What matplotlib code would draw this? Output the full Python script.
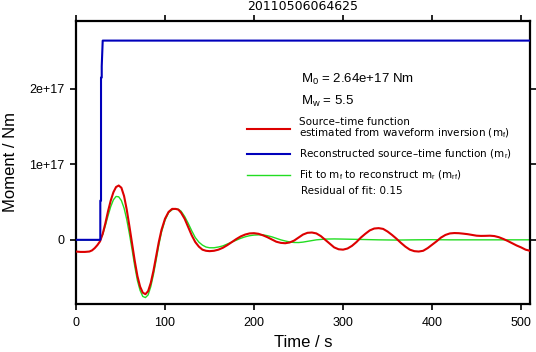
"""Source-time function plot for event 20110506064625."""

import matplotlib
matplotlib.use("Agg")
import matplotlib.pyplot as plt
from matplotlib.lines import Line2D
import numpy as np

plt.rcParams["font.family"] = ["Liberation Sans", "DejaVu Sans"]
plt.rcParams["mathtext.fontset"] = "custom"
plt.rcParams["mathtext.rm"] = "Liberation Sans"
plt.rcParams["mathtext.it"] = "Liberation Sans"

event_id = "20110506064625"
moment_text = "M$_0$ = 2.64e+17 Nm"
mw_text = "M$_w$ = 5.5"
residual_text = "Residual of fit: 0.15"

# estimated source-time function m_f (units of 1e17 Nm)
t_red = [0, 5, 10, 15, 18, 21, 24, 27, 30, 33, 36, 39, 42, 45, 48, 51, 54, 57, 60,
         63, 66, 69, 72, 75, 78, 81, 84, 87, 90, 93, 96, 100, 104, 108, 112, 115,
         118, 122, 126, 130, 134, 138, 142, 146, 150, 155, 160, 165, 170, 175, 180,
         185, 190, 195, 200, 205, 210, 215, 220, 225, 230, 235, 240, 245, 250, 255,
         260, 265, 270, 275, 280, 285, 290, 295, 300, 305, 310, 315, 320, 325, 330,
         335, 340, 345, 350, 355, 360, 365, 370, 375, 380, 385, 390, 395, 400, 405,
         410, 415, 420, 425, 430, 435, 440, 445, 450, 455, 460, 465, 470, 475, 480,
         485, 490, 495, 500, 505, 510]
m_red = [-0.155, -0.16, -0.16, -0.155, -0.14, -0.11, -0.07, -0.02, 0.08, 0.22, 0.38,
         0.52, 0.63, 0.70, 0.72, 0.69, 0.58, 0.40, 0.18, -0.05, -0.28, -0.48, -0.62,
         -0.70, -0.72, -0.68, -0.57, -0.41, -0.22, -0.03, 0.13, 0.28, 0.37, 0.41, 0.41,
         0.40, 0.36, 0.28, 0.17, 0.06, -0.03, -0.09, -0.13, -0.145, -0.15, -0.145,
         -0.13, -0.105, -0.07, -0.03, 0.01, 0.045, 0.07, 0.085, 0.088, 0.08, 0.06,
         0.035, 0.005, -0.025, -0.04, -0.045, -0.035, -0.01, 0.03, 0.07, 0.093, 0.097,
         0.085, 0.05, 0.0, -0.05, -0.10, -0.125, -0.13, -0.115, -0.08, -0.03, 0.03,
         0.08, 0.125, 0.15, 0.155, 0.145, 0.11, 0.065, 0.015, -0.04, -0.09, -0.13,
         -0.15, -0.155, -0.145, -0.11, -0.065, -0.02, 0.03, 0.065, 0.085, 0.09, 0.088,
         0.082, 0.075, 0.065, 0.055, 0.052, 0.053, 0.055, 0.05, 0.035, 0.012, -0.015,
         -0.045, -0.075, -0.10, -0.13, -0.145]

# reconstructed source-time function m_r
t_blue = [0, 27.3, 27.3, 28.1, 28.1, 28.9, 28.9, 30.0, 510]
m_blue = [0, 0, 0.52, 0.52, 2.15, 2.15, 2.30, 2.64, 2.64]

# fit m_rf
t_green = [0, 27, 30, 33, 36, 39, 42, 45, 48, 51, 54, 57, 60, 63, 66, 69, 72, 75,
           78, 81, 84, 87, 90, 93, 96, 100, 104, 108, 112, 115, 118, 122, 126, 130,
           134, 138, 142, 146, 150, 155, 160, 165, 170, 175, 180, 185, 190, 195, 200,
           205, 210, 215, 220, 225, 230, 235, 240, 245, 250, 255, 260, 265, 270, 280,
           290, 300, 320, 340, 360, 380, 400, 420, 450, 480, 510]
m_green = [0, 0, 0.07, 0.19, 0.32, 0.44, 0.53, 0.575, 0.57, 0.52, 0.42, 0.27, 0.08,
           -0.13, -0.35, -0.54, -0.67, -0.75, -0.765, -0.73, -0.62, -0.46, -0.27,
           -0.07, 0.10, 0.26, 0.36, 0.40, 0.41, 0.405, 0.38, 0.31, 0.22, 0.12, 0.03,
           -0.03, -0.07, -0.095, -0.105, -0.105, -0.095, -0.08, -0.055, -0.03, -0.005,
           0.02, 0.04, 0.055, 0.063, 0.066, 0.066, 0.055, 0.04, 0.02, 0.0, -0.015,
           -0.028, -0.035, -0.036, -0.03, -0.02, -0.01, 0.0, 0.01, 0.012, 0.01, 0.005,
           0.0, -0.003, 0.0, 0.002, 0.0, 0.0, 0.0, 0.0]

labels = ["Source\u2013time function\nestimated from waveform inversion (m$_f$)",
          "Reconstructed source\u2013time function (m$_r$)",
          "Fit to m$_f$ to reconstruct m$_r$ (m$_{rf}$)"]

x_ticks = [0, 100, 200, 300, 400, 500]
y_ticks = [0, 1e17, 2e17]
y_tick_labels = ["0", "1e+17", "2e+17"]

fig = plt.figure(figsize=(5.36, 3.52), dpi=100)
ax = fig.add_axes([0.1418, 0.1364, 0.847, 0.804])

scale = 1e17
ax.plot(t_green, np.array(m_green) * scale, color="#22dd22", linewidth=1.0, zorder=2)
ax.plot(t_red, np.array(m_red) * scale, color="#dd0000", linewidth=1.5, zorder=3)
ax.plot(t_blue, np.array(m_blue) * scale, color="#0000bb", linewidth=1.5, zorder=4)

ax.set_xlim(0, 510)
ax.set_ylim(-0.85e17, 2.9e17)
ax.set_xticks(x_ticks)
ax.set_yticks(y_ticks)
ax.set_yticklabels(y_tick_labels)
ax.tick_params(direction="out", length=4.5, width=1.2, labelsize=9, pad=4,
               top=True, right=True)
ax.tick_params(axis="x", pad=5)
for s in ax.spines.values():
    s.set_linewidth(1.6)

ax.set_xlabel("Time / s", fontsize=12, labelpad=4)
ax.set_ylabel("Moment / Nm", fontsize=12, labelpad=8)
ax.set_title(event_id, fontsize=9, pad=8, family=["DejaVu Sans"])

ax.text(0.4956, 0.795, moment_text, transform=ax.transAxes, fontsize=9.5,
        va="center", ha="left")
ax.text(0.4956, 0.717, mw_text, transform=ax.transAxes, fontsize=9.5,
        va="center", ha="left")

handles = [Line2D([], [], color="#dd0000", linewidth=1.5),
           Line2D([], [], color="#0000bb", linewidth=1.5),
           Line2D([], [], color="#22dd22", linewidth=1.0)]
leg = ax.legend(handles, labels, loc="upper left", bbox_to_anchor=(0.3767, 0.66),
                frameon=False, prop={"family": ["DejaVu Sans"], "size": 7.5},
                handlelength=4.1, handletextpad=0.85,
                borderpad=0, borderaxespad=0, labelspacing=0.7)
for txt in leg.get_texts():
    txt.set_linespacing(0.95)
ax.text(0.4956, 0.40, residual_text, transform=ax.transAxes, fontsize=7.5,
        family=["DejaVu Sans"], va="center", ha="left")

fig.savefig("out.png", dpi=100)
